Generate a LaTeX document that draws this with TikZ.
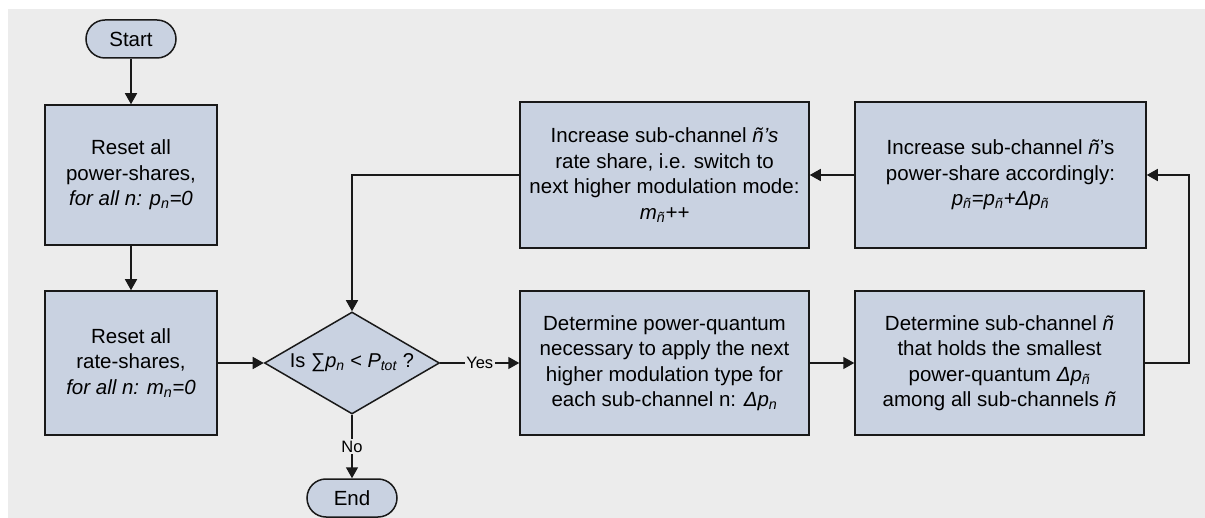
\documentclass[tikz,border=0pt]{standalone}
\usepackage{fontspec}
\setmainfont{Liberation Sans}
\usetikzlibrary{shapes.geometric,arrows.meta}

\definecolor{bggray}{RGB}{236,236,236}
\definecolor{boxblue}{RGB}{201,210,225}
\definecolor{edgegray}{RGB}{25,25,25}

\newcommand{\vsub}[2]{\textit{#1}\textsubscript{\textit{#2}}}

\tikzset{
  procbox/.style={draw=edgegray, fill=boxblue, line width=1.5pt, align=center,
    font=\fontsize{20.5}{25.5}\selectfont, inner sep=0pt},
  termbox/.style={draw=edgegray, fill=boxblue, line width=1.5pt, rounded corners=19pt,
    minimum width=90pt, minimum height=38pt, inner sep=0pt, font=\fontsize{20.5}{24}\selectfont},
  decbox/.style={draw=edgegray, fill=boxblue, line width=1.5pt, shape=diamond, aspect=1.7,
    minimum width=175pt, minimum height=102pt, inner sep=0pt, font=\fontsize{20}{24}\selectfont},
  flowline/.style={line width=1.5pt, draw=edgegray, -{Triangle[length=11pt,width=12pt]}},
  branchlbl/.style={fill=bggray, inner sep=1.5pt, font=\fontsize{16.5}{20}\selectfont}
}

\begin{document}
\begin{tikzpicture}[x=1pt,y=1pt,yscale=-1]
\useasboundingbox (0,0) rectangle (1205,518);
\fill[bggray] (8,9) rectangle (1205,518);

% left column
\node[termbox] (start) at (131,39) {Start};
\node[procbox, minimum width=172pt, minimum height=140pt] (resetp) at (131,175)
  {Reset all\\power-shares,\\\textit{for all n: }\vsub{p}{n}\textit{=0}};
\node[procbox, minimum width=172pt, minimum height=144pt] (resetm) at (131,363)
  {Reset all\\rate-shares,\\\textit{for all n: }\vsub{m}{n}\textit{=0}};

% decision
\node[decbox] (test) at (352,363) {Is ∑\vsub{p}{n} < \vsub{P}{tot} ?};
\node[termbox] (stop) at (352,498) {End};

% lower row
\node[procbox, minimum width=289pt, minimum height=144pt] (quant) at (664.5,363)
  {Determine power-quantum\\necessary to apply the next\\higher modulation type for\\each sub-channel n: \vsub{Δp}{n}};
\node[procbox, minimum width=289pt, minimum height=144pt] (pick) at (999.5,363)
  {Determine sub-channel \textit{ñ}\\that holds the smallest\\power-quantum \vsub{Δp}{ñ}\\among all sub-channels \textit{ñ}};

% upper row
\node[procbox, minimum width=291pt, minimum height=146pt] (incp) at (1000.5,175)
  {Increase sub-channel \textit{ñ}'s\\power-share accordingly:\\\vsub{p}{ñ}\textit{=}\vsub{p}{ñ}\textit{+}\vsub{Δp}{ñ}};
\node[procbox, minimum width=289pt, minimum height=146pt] (incm) at (664.5,175)
  {Increase sub-channel \textit{ñ's}\\rate share, i.e. switch to\\next higher modulation mode:\\\vsub{m}{ñ}\textit{++}};

% connectors
\draw[flowline] (start) -- (resetp);
\draw[flowline] (resetp) -- (resetm);
\draw[flowline] (resetm) -- (test);
\draw[flowline] (test) -- node[branchlbl] {Yes} (quant);
\draw[flowline] (test) -- node[branchlbl] {No} (stop);
\draw[flowline] (quant) -- (pick);
\draw[flowline] (pick.east) -- ++(44,0) |- (incp.east);
\draw[flowline] (incp) -- (incm);
\draw[flowline] (incm.west) -| (test.north);

\end{tikzpicture}
\end{document}
